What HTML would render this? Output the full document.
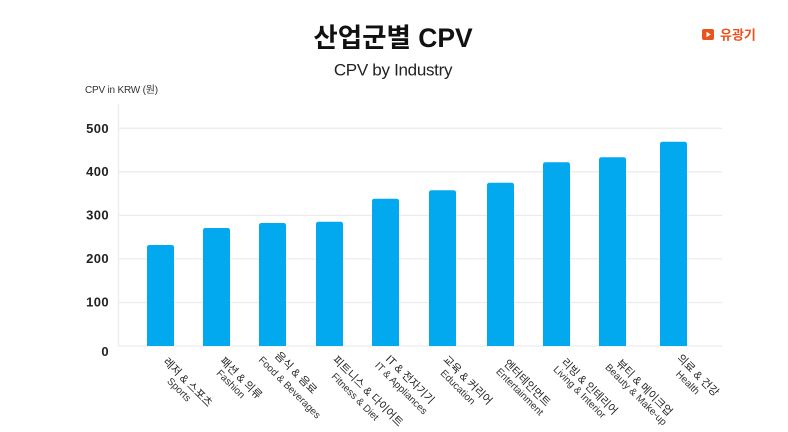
<!DOCTYPE html>
<html>
<head>
<meta charset="utf-8">
<style>
  html, body { margin: 0; padding: 0; background: #ffffff; }
  body { width: 788px; height: 432px; overflow: hidden; }
  svg { display: block; }
  .t { font-family: "Liberation Sans", "Noto Sans CJK KR", sans-serif; }
</style>
</head>
<body>
<svg width="788" height="432" viewBox="0 0 788 432" xmlns="http://www.w3.org/2000/svg">
  <rect x="0" y="0" width="788" height="432" fill="#ffffff"/>

  <!-- Title -->
  <text class="t" x="393" y="47" text-anchor="middle" font-size="26.5" font-weight="bold" fill="#111111">산업군별 CPV</text>
  <text class="t" x="393" y="75.5" text-anchor="middle" font-size="17" letter-spacing="-0.3" fill="#222222">CPV by Industry</text>

  <!-- Logo top-right -->
  <rect x="702" y="29" width="12" height="11" rx="2" fill="#e9531d"/>
  <polygon points="706.5,31.8 706.5,37.2 710.8,34.5" fill="#ffffff"/>
  <text class="t" x="720" y="39.5" font-size="13" font-weight="bold" fill="#e9531d">유광기</text>

  <!-- Y axis title -->
  <text class="t" x="85" y="93" font-size="10" letter-spacing="-0.2" fill="#333333">CPV in KRW (원)</text>

  <!-- Gridlines -->
  <g stroke="#ececec" stroke-width="1.3">
    <line x1="118" y1="128.3" x2="722" y2="128.3"/>
    <line x1="118" y1="171.8" x2="722" y2="171.8"/>
    <line x1="118" y1="215.4" x2="722" y2="215.4"/>
    <line x1="118" y1="258.9" x2="722" y2="258.9"/>
    <line x1="118" y1="302.5" x2="722" y2="302.5"/>
    <line x1="118" y1="346" x2="722" y2="346"/>
    <line x1="118.5" y1="104" x2="118.5" y2="346"/>
  </g>

  <!-- Y tick labels -->
  <g class="t" font-size="13" font-weight="bold" fill="#222222" text-anchor="end" letter-spacing="0.4">
    <text x="109" y="132.8">500</text>
    <text x="109" y="176">400</text>
    <text x="109" y="219.6">300</text>
    <text x="109" y="263.1">200</text>
    <text x="109" y="306.7">100</text>
    <text x="109" y="356.2">0</text>
  </g>

  <!-- Bars -->
  <g fill="#03a9ef">
    <path d="M147,346 V247.5 Q147,245 149.5,245 H171.5 Q174,245 174,247.5 V346 Z"/>
    <path d="M203,346 V230.5 Q203,228 205.5,228 H227.5 Q230,228 230,230.5 V346 Z"/>
    <path d="M259,346 V225.5 Q259,223 261.5,223 H283.5 Q286,223 286,225.5 V346 Z"/>
    <path d="M316,346 V224.2 Q316,221.7 318.5,221.7 H340.5 Q343,221.7 343,224.2 V346 Z"/>
    <path d="M372,346 V201.2 Q372,198.7 374.5,198.7 H396.5 Q399,198.7 399,201.2 V346 Z"/>
    <path d="M429,346 V192.8 Q429,190.3 431.5,190.3 H453.5 Q456,190.3 456,192.8 V346 Z"/>
    <path d="M487,346 V185.2 Q487,182.7 489.5,182.7 H511.5 Q514,182.7 514,185.2 V346 Z"/>
    <path d="M543,346 V164.8 Q543,162.3 545.5,162.3 H567.5 Q570,162.3 570,164.8 V346 Z"/>
    <path d="M599,346 V159.8 Q599,157.3 601.5,157.3 H623.5 Q626,157.3 626,159.8 V346 Z"/>
    <path d="M660,346 V144.2 Q660,141.7 662.5,141.7 H684.5 Q687,141.7 687,144.2 V346 Z"/>
  </g>

  <!-- X labels (rotated 45deg) -->
  <g class="t" fill="#222222" text-anchor="middle">
    <g transform="translate(160.5,346) rotate(45)">
      <text x="45" y="10" font-size="11">레저 &amp; 스포츠</text>
      <text x="44" y="21" font-size="10" fill="#333">Sports</text>
    </g>
    <g transform="translate(216.5,346) rotate(45)">
      <text x="40" y="9" font-size="11">패션 &amp; 의류</text>
      <text x="37" y="20" font-size="10" fill="#333">Fashion</text>
    </g>
    <g transform="translate(272.5,346) rotate(45)">
      <text x="35.5" y="6" font-size="11">음식 &amp; 음료</text>
      <text x="41.5" y="20.5" font-size="10" fill="#333">Food &amp; Beverages</text>
    </g>
    <g transform="translate(329.5,346) rotate(45)">
      <text x="59" y="8.5" font-size="11">피트니스 &amp; 다이어트</text>
      <text x="54" y="21" font-size="10" fill="#333">Fitness &amp; Diet</text>
    </g>
    <g transform="translate(385.5,346) rotate(45)">
      <text x="41" y="10" font-size="11">IT &amp; 전자기기</text>
      <text x="41" y="22" font-size="10" fill="#333">IT &amp; Appliances</text>
    </g>
    <g transform="translate(442.5,346) rotate(45)">
      <text x="42" y="10" font-size="11">교육 &amp; 커리어</text>
      <text x="40" y="21.5" font-size="10" fill="#333">Education</text>
    </g>
    <g transform="translate(500.5,346) rotate(45)">
      <text x="45" y="11" font-size="11">엔터테인먼트</text>
      <text x="46" y="22" font-size="10" fill="#333">Entertainment</text>
    </g>
    <g transform="translate(556.5,346) rotate(45)">
      <text x="52" y="9" font-size="11">리빙 &amp; 인테리어</text>
      <text x="49" y="19.5" font-size="10" fill="#333">Living &amp; Interior</text>
    </g>
    <g transform="translate(612.5,346) rotate(45)">
      <text x="52" y="10.5" font-size="11">뷰티 &amp; 메이크업</text>
      <text x="51" y="21" font-size="10" fill="#333">Beauty &amp; Make-up</text>
    </g>
    <g transform="translate(673.5,346) rotate(45)">
      <text x="38" y="7" font-size="11">의료 &amp; 건강</text>
      <text x="36" y="19" font-size="10" fill="#333">Health</text>
    </g>
  </g>
</svg>
</body>
</html>
